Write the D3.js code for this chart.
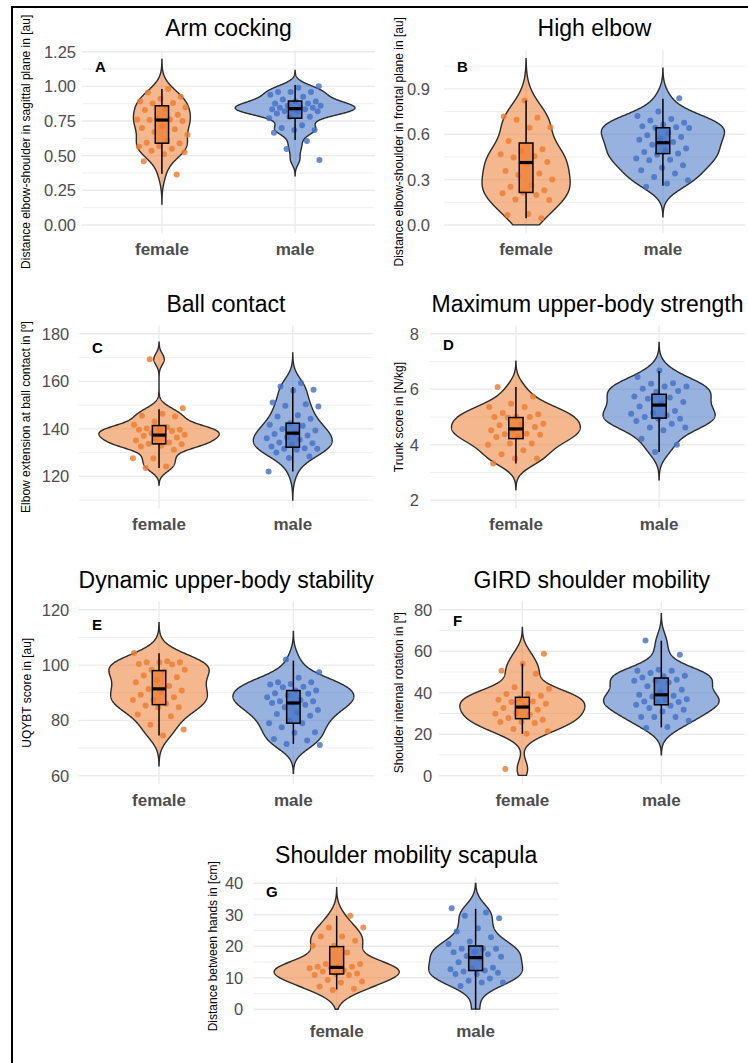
<!DOCTYPE html>
<html>
<head>
<meta charset="utf-8">
<script src="https://cdn.jsdelivr.net/npm/d3@7"></script>
<style>
  body { margin: 0; background: #fff; }
  svg { display: block; font-family: "Liberation Sans", Arial, sans-serif; }
</style>
</head>
<body>
<svg id="chart" width="748" height="1063"></svg>
<script>
var groups = ['female', 'male']
var titles = ['Arm cocking', 'High elbow', 'Ball contact', 'Maximum upper-body strength',
  'Dynamic upper-body stability', 'GIRD shoulder mobility', 'Shoulder mobility scapula']
var yTitles = ['Distance elbow-shoulder in sagittal plane in [au]',
  'Distance elbow-shoulder in frontal plane in [au]',
  'Elbow extension at ball contact in [º]',
  'Trunk score in [N/kg]',
  'UQYBT score in [au]',
  'Shoulder internal rotation in [º]',
  'Distance between hands in [cm]']
var letters = ['A', 'B', 'C', 'D', 'E', 'F', 'G']
var yLimits = [[0, 1.2], [0, 1.1], [110, 180], [2, 8], [60, 120], [0, 80], [0, 40]]
var yTicks = [[0, 0.25, 0.5, 0.75, 1, 1.25], [0, 0.3, 0.6, 0.9], [120, 140, 160, 180],
  [2, 4, 6, 8], [60, 80, 100, 120], [0, 20, 40, 60, 80], [0, 10, 20, 30, 40]]
var tickFormats = ['.2f', '.1f', 'd', 'd', 'd', 'd', 'd']

// measured values per subject
var armFemale = [0.98, 0.955, 0.925, 0.91, 0.89, 0.88, 0.877, 0.85, 0.84, 0.83, 0.795, 0.77, 0.76, 0.76, 0.757, 0.75,
  0.71, 0.70, 0.69, 0.67, 0.65, 0.605, 0.594, 0.59, 0.57, 0.565, 0.55, 0.536, 0.524, 0.51, 0.46, 0.365]
var armMale = [1.0, 0.99, 0.96, 0.96, 0.96, 0.94, 0.925, 0.906, 0.89, 0.89, 0.877, 0.877, 0.86, 0.86, 0.846, 0.846,
  0.846, 0.834, 0.834, 0.834, 0.82, 0.82, 0.82, 0.805, 0.78, 0.78, 0.77, 0.72, 0.70, 0.685, 0.685, 0.666, 0.605, 0.548, 0.469]
var elbowFemale = [0.823, 0.718, 0.709, 0.696, 0.647, 0.643, 0.555, 0.50, 0.489, 0.467, 0.454, 0.446, 0.417, 0.406,
  0.357, 0.34, 0.33, 0.30, 0.263, 0.252, 0.23, 0.213, 0.209, 0.198, 0.169, 0.165, 0.072, 0.066, 0.044]
var elbowMale = [0.838, 0.75, 0.72, 0.70, 0.691, 0.676, 0.663, 0.652, 0.647, 0.643, 0.641, 0.608, 0.593, 0.582, 0.571,
  0.564, 0.549, 0.531, 0.505, 0.494, 0.483, 0.472, 0.465, 0.439, 0.432, 0.428, 0.395, 0.378, 0.362, 0.34, 0.318, 0.296, 0.274, 0.252]
var ballFemale = [169.3, 148.7, 146.4, 145.5, 145.2, 143.1, 141.7, 140.7, 140.2, 139.6, 139.6, 139.6, 139.1, 138.2, 137.5,
  137.1, 137.1, 136.4, 135.7, 135.1, 134.3, 133.7, 133.5, 132.9, 132.6, 131.2, 127.6, 127.6, 124.2, 123.5]
var ballMale = [159.3, 157.8, 156.5, 156.2, 151.1, 150.4, 149.7, 149.4, 145.7, 145.2, 144.3, 142.4, 141.7, 141.3, 139.9,
  139.3, 138.2, 137.8, 137.2, 136.5, 136.1, 135.4, 134.3, 134.0, 133.3, 132.6, 131.9, 131.6, 131.6, 131.2, 130.1, 128.4, 127.7, 122.1]
var strengthFemale = [6.08, 5.74, 5.48, 5.36, 5.36, 5.14, 5.1, 5.02, 5.0, 5.0, 4.98, 4.76, 4.74, 4.70, 4.64, 4.54, 4.52,
  4.4, 4.38, 4.36, 4.30, 4.28, 4.04, 4.04, 4.0, 3.8, 3.66, 3.5, 3.5, 3.32]
var strengthMale = [6.68, 6.44, 6.22, 6.2, 6.1, 6.1, 6.02, 5.94, 5.9, 5.74, 5.7, 5.66, 5.54, 5.48, 5.38, 5.22, 5.14, 5.12,
  5.06, 5.0, 4.94, 4.94, 4.86, 4.76, 4.62, 4.62, 4.52, 4.22, 4.0, 3.74]
var stabilityFemale = [104.4, 101.4, 101.0, 101.0, 101.0, 100.4, 100.2, 98.3, 98.3, 97.7, 96.2, 95.6, 94.6, 93.8, 92.4,
  91.4, 90.8, 90.4, 89.3, 88.4, 87.4, 87.4, 86.0, 85.4, 84.8, 84.8, 82.1, 81.5, 78.4, 76.7, 74.5]
var stabilityMale = [102.0, 97.4, 95.4, 93.8, 93.8, 93.2, 93.0, 92.2, 92.0, 90.8, 90.8, 89.8, 89.6, 89.0, 88.4, 87.4, 86.9,
  86.9, 86.3, 86.3, 85.7, 84.8, 83.8, 82.9, 82.3, 81.7, 79.9, 79.0, 79.0, 77.5, 75.7, 75.5, 73.3, 72.7, 71.5, 71.1]
var girdFemale = [58.8, 54.0, 50.6, 49.2, 42.6, 41.9, 39.4, 39.4, 38.6, 37.4, 36.6, 35.8, 35.5, 34.7, 33.9, 32.6, 31.8,
  30.5, 29.9, 29.4, 27.8, 27.0, 25.9, 25.9, 25.4, 22.5, 21.4, 20.2, 3.2]
var girdMale = [65.2, 58.3, 51.1, 50.6, 50.6, 49.5, 48.2, 47.9, 47.4, 46.3, 45.8, 45.8, 45.0, 43.1, 41.4, 40.2, 39.0, 38.6,
  38.2, 36.9, 36.6, 35.8, 35.5, 35.5, 34.2, 33.7, 32.6, 31.8, 31.0, 28.3, 28.3, 28.3, 26.5, 23.5, 23.0]
var scapulaFemale = [29.7, 26.0, 26.0, 23.1, 23.1, 21.8, 20.2, 20.2, 18.0, 14.4, 14.4, 13.5, 13.5, 13.5, 13.2, 13.0, 12.3,
  12.0, 11.4, 11.2, 10.9, 10.9, 9.3, 8.8, 8.5, 7.2, 6.5, 6.1]
var scapulaMale = [32.1, 30.7, 29.7, 28.9, 25.7, 24.7, 22.9, 21.5, 20.7, 19.2, 19.2, 19.2, 18.3, 18.1, 17.5, 16.9, 16.7,
  16.2, 14.9, 13.2, 13.0, 12.7, 12.3, 12.0, 11.6, 11.2, 11.2, 9.8, 9.1, 8.5, 8.5, 7.4, 0]

// boxplot stats: [lower whisker, q1, median, q3, upper whisker]
var boxFemale = [[0.37, 0.59, 0.757, 0.86, 0.98], [0.044, 0.215, 0.413, 0.542, 0.823], [123.5, 133.7, 137.4, 141.4, 148.3],
  [3.32, 4.22, 4.57, 4.98, 6.08], [74.5, 85.7, 91.4, 98.0, 104.3], [20.2, 27.5, 33.1, 37.8, 54.0], [6.3, 11.2, 13.3, 19.9, 29.7]]
var boxMale = [[0.613, 0.77, 0.839, 0.894, 1.01], [0.259, 0.472, 0.544, 0.643, 0.834], [122.1, 132.3, 138.2, 142.4, 157.6],
  [3.74, 4.96, 5.43, 5.82, 6.66], [71.5, 79.0, 86.3, 90.8, 101.6], [23.3, 34.2, 39.0, 47.1, 65.1], [0, 12.3, 16.4, 20.1, 31.9]]

var seriesFemale = [armFemale, elbowFemale, ballFemale, strengthFemale, stabilityFemale, girdFemale, scapulaFemale]
var seriesMale = [armMale, elbowMale, ballMale, strengthMale, stabilityMale, girdMale, scapulaMale]

var fills = { female: '#ED7D31', male: '#4472C4' }

// panel boxes in pixels: x0, x1, y0, y1, axis title x, tick label right edge, letter baseline offset
var layout = [
  { x0: 82, x1: 375, y0: 50.3, y1: 233.3, titleX: 30, tickX: 76, letterDy: 21.5 },
  { x0: 444, x1: 745, y0: 50.3, y1: 233.3, titleX: 403, tickX: 430, letterDy: 21.5 },
  { x0: 78.8, x1: 373, y0: 325.5, y1: 508.5, titleX: 30, tickX: 69.3, letterDy: 27.5 },
  { x0: 430, x1: 745, y0: 325.5, y1: 508.5, titleX: 403, tickX: 419, letterDy: 24 },
  { x0: 78.4, x1: 374, y0: 601.5, y1: 784, titleX: 31, tickX: 69.3, letterDy: 28.5 },
  { x0: 439, x1: 744.7, y0: 601.5, y1: 784, titleX: 403, tickX: 432.3, letterDy: 24 },
  { x0: 253.3, x1: 559, y0: 877, y1: 1015.6, titleX: 217, tickX: 243.3, letterDy: 19.5 }
]

var svg = d3.select('#chart')

// outer frame
svg.append('line').attr('x1', 12).attr('x2', 12).attr('y1', 6).attr('y2', 1063)
  .attr('stroke', '#000').attr('stroke-width', 2)
svg.append('line').attr('x1', 11).attr('x2', 748).attr('y1', 7).attr('y2', 7)
  .attr('stroke', '#000').attr('stroke-width', 2)

function bwNrd0(x) {
  var sorted = x.slice().sort(d3.ascending)
  var iqr = d3.quantile(sorted, 0.75) - d3.quantile(sorted, 0.25)
  var lo = Math.min(d3.deviation(x), iqr / 1.34)
  return 0.9 * lo * Math.pow(x.length, -0.2)
}

function density(x, lim) {
  var bw = bwNrd0(x)
  var from = d3.min(x) - 3 * bw
  var to = d3.max(x) + 3 * bw
  var pts = []
  for (var i = 0; i < 512; i++) {
    var y = from + (to - from) * i / 511
    if (y < lim[0] || y > lim[1]) continue
    var sum = 0
    x.forEach(v => {
      var z = (y - v) / bw
      sum += Math.exp(-0.5 * z * z)
    })
    pts.push([y, sum / (x.length * bw * Math.sqrt(2 * Math.PI))])
  }
  return pts
}

function drawPanel(p) {
  var L = layout[p]
  var lim = yLimits[p]
  var pad = (lim[1] - lim[0]) * 0.05
  var y = d3.scaleLinear().domain([lim[0] - pad, lim[1] + pad]).range([L.y1, L.y0])
  var x = d3.scalePoint().domain(groups).range([L.x0, L.x1]).padding(0.6)
  var step = x.step()
  var g = svg.append('g')

  // minor grid between major ticks
  var ticks = yTicks[p]
  var tstep = ticks[1] - ticks[0]
  var minor = []
  for (var t = ticks[0] - tstep / 2; t <= lim[1] + pad; t += tstep) {
    if (t >= lim[0] - pad) minor.push(t)
  }
  g.selectAll('.minor').data(minor).enter().append('line')
    .attr('x1', L.x0).attr('x2', L.x1)
    .attr('y1', d => y(d)).attr('y2', d => y(d))
    .attr('stroke', '#EBEBEB').attr('stroke-width', 0.8)
  g.selectAll('.major').data(ticks).enter().append('line')
    .attr('x1', L.x0).attr('x2', L.x1)
    .attr('y1', d => y(d)).attr('y2', d => y(d))
    .attr('stroke', '#EBEBEB').attr('stroke-width', 1.4)
  g.selectAll('.vgrid').data(groups).enter().append('line')
    .attr('x1', d => x(d)).attr('x2', d => x(d))
    .attr('y1', L.y0).attr('y2', L.y1)
    .attr('stroke', '#EBEBEB').attr('stroke-width', 1.4)

  // y axis labels
  var fmt = d3.format(tickFormats[p])
  g.selectAll('.tick').data(ticks).enter().append('text')
    .attr('x', L.tickX).attr('y', d => y(d)).attr('dy', '0.36em')
    .attr('text-anchor', 'end').attr('font-size', 16.5).attr('fill', '#4D4D4D')
    .text(d => fmt(d))

  // x category labels
  g.selectAll('.cat').data(groups).enter().append('text')
    .attr('x', d => x(d)).attr('y', L.y1 + 21.5)
    .attr('text-anchor', 'middle').attr('font-size', 17).attr('font-weight', 'bold')
    .attr('fill', '#4D4D4D')
    .text(d => d)

  // titles
  g.append('text')
    .attr('x', (L.x0 + L.x1) / 2).attr('y', L.y0 - 14)
    .attr('text-anchor', 'middle').attr('font-size', 23).attr('fill', '#000')
    .text(titles[p])
  g.append('text')
    .attr('transform', 'translate(' + L.titleX + ',' + (L.y0 + L.y1) / 2 + ') rotate(-90)')
    .attr('text-anchor', 'middle').attr('font-size', 12).attr('fill', '#000')
    .text(yTitles[p])

  // violins, scale = area over both groups
  var data = [seriesFemale[p], seriesMale[p]]
  var dens = data.map(d => density(d, lim))
  var maxD = d3.max(dens, d => d3.max(d, e => e[1]))
  var w = d3.scaleLinear().domain([0, maxD]).range([0, 0.45 * step])
  groups.forEach((grp, i) => {
    var cx = x(grp)
    var area = d3.area()
      .y(d => y(d[0]))
      .x0(d => cx - w(d[1]))
      .x1(d => cx + w(d[1]))
    g.append('path')
      .attr('d', area(dens[i]))
      .attr('fill', fills[grp]).attr('fill-opacity', 0.55)
      .attr('stroke', '#2b2b2b').attr('stroke-width', 1.4)
  })

  // jittered points; values on the lower limit are censored like in the source plot
  groups.forEach((grp, i) => {
    var cx = x(grp)
    g.selectAll('.pt' + i).data(data[i]).enter()
      .filter(d => d > lim[0])
      .append('circle')
      .attr('cx', (d, k) => cx + (((k + 1 + p * 3 + i * 7) * 0.6180339887) % 1 - 0.5) * 0.4 * step)
      .attr('cy', d => y(d))
      .attr('r', 3)
      .attr('fill', fills[grp]).attr('fill-opacity', 0.82)
  })

  // boxplots
  var boxes = [boxFemale[p], boxMale[p]]
  groups.forEach((grp, i) => {
    var cx = x(grp)
    var b = boxes[i]
    var hw = 0.05 * step
    g.append('line').attr('x1', cx).attr('x2', cx).attr('y1', y(b[0])).attr('y2', y(b[1]))
      .attr('stroke', '#000').attr('stroke-width', 1.5)
    g.append('line').attr('x1', cx).attr('x2', cx).attr('y1', y(b[3])).attr('y2', y(b[4]))
      .attr('stroke', '#000').attr('stroke-width', 1.5)
    g.append('rect')
      .attr('x', cx - hw).attr('width', 2 * hw)
      .attr('y', y(b[3])).attr('height', y(b[1]) - y(b[3]))
      .attr('fill', fills[grp]).attr('fill-opacity', 0.75)
      .attr('stroke', '#000').attr('stroke-width', 1.5)
    g.append('line').attr('x1', cx - hw).attr('x2', cx + hw).attr('y1', y(b[2])).attr('y2', y(b[2]))
      .attr('stroke', '#000').attr('stroke-width', 3.2)
  })

  // panel letter
  g.append('text')
    .attr('x', L.x0 + 18.5).attr('y', L.y0 + L.letterDy)
    .attr('text-anchor', 'middle').attr('font-size', 15).attr('font-weight', 'bold')
    .attr('fill', '#000')
    .text(letters[p])
}

for (var p = 0; p < 7; p++) drawPanel(p)
</script>
</body>
</html>
